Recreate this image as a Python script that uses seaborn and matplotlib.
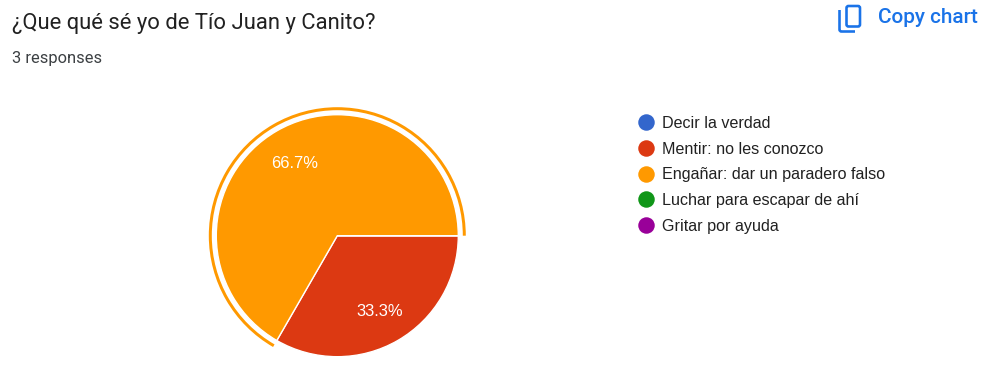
import matplotlib
matplotlib.use("Agg")
import matplotlib.pyplot as plt
from matplotlib.lines import Line2D
from matplotlib.patches import Wedge, FancyBboxPatch, PathPatch
from matplotlib.path import Path
import seaborn as sns

title = "¿Que qué sé yo de Tío Juan y Canito?"
subtitle = "3 responses"
copy_label = "Copy chart"
categories = ["Decir la verdad", "Mentir: no les conozco", "Engañar: dar un paradero falso",
              "Luchar para escapar de ahí", "Gritar por ayuda"]
counts = [0, 1, 2, 0, 0]
colors = ["#3366cc", "#dc3912", "#ff9900", "#109618", "#990099"]

W, H = 993, 369
sns.set_theme(style="white")
plt.rcParams["font.family"] = ["Roboto", "DejaVu Sans"]
pal = sns.color_palette(colors)
px = 0.72  # points per pixel at dpi 100

fig = plt.figure(figsize=(W / 100, H / 100), dpi=100)
ax = fig.add_axes([0, 0, 1, 1])

cx, cy, r = 337.3, H - 235.7, 121
wedges, _, autotexts = ax.pie(
    counts, colors=pal, center=(cx, cy), radius=r, startangle=0, counterclock=False,
    autopct=lambda p: f"{p:.1f}%" if p > 0 else "", pctdistance=0.705,
    wedgeprops=dict(edgecolor="white", linewidth=1.0), frame=True,
    textprops=dict(color="white", fontsize=16.5 * px, family=["Liberation Sans"]),
)
for t in autotexts:
    x, y = t.get_position()
    t.set_position((x - 0.5, y - 2))
ax.set_xlim(0, W)
ax.set_ylim(0, H)
ax.set_aspect("equal")
ax.set_xticks([])
ax.set_yticks([])
for s in ax.spines.values():
    s.set_visible(False)

# selection ring around the highlighted slice
ax.add_patch(Wedge((cx, cy), 128.5, 0, 240, width=3, facecolor=pal[2], edgecolor="none"))

ax.text(12, H - 23.5, title, fontsize=22 * px, color="#212121", va="center", ha="left")
ax.text(12, H - 58, subtitle, fontsize=16.5 * px, color="#3c4043", va="center", ha="left")

# copy icon
blue = "#1a73e8"
lw = 2.6 * px
ax.add_patch(FancyBboxPatch((846.5, H - 26.5), 13.5, 20.5, boxstyle="round,pad=0,rounding_size=2",
                            fill=False, edgecolor=blue, linewidth=lw))
ax.add_patch(PathPatch(Path([(839.5, H - 10), (839.5, H - 29.5), (839.5, H - 31.5), (841.5, H - 31.5), (855, H - 31.5)],
                            [Path.MOVETO, Path.LINETO, Path.CURVE3, Path.CURVE3, Path.LINETO]),
                       fill=False, edgecolor=blue, linewidth=lw))
ax.text(878, H - 17.5, copy_label, fontsize=20.8 * px, color=blue, va="center", ha="left", fontweight="medium")

handles = [Line2D([], [], linestyle="none", marker="o", markersize=16.5 * px, color=c, markeredgewidth=0)
           for c in pal]
leg = ax.legend(handles, categories, loc="upper left", bbox_to_anchor=(634 / W, 1 - 116 / H),
                bbox_transform=fig.transFigure, frameon=False, labelcolor="#212121",
                labelspacing=0.66, handletextpad=0.25, handlelength=1.5, borderpad=0, borderaxespad=0,
                prop=dict(family="Liberation Sans", size=16.1 * px))

fig.savefig("out.png", dpi=100, facecolor="white")
